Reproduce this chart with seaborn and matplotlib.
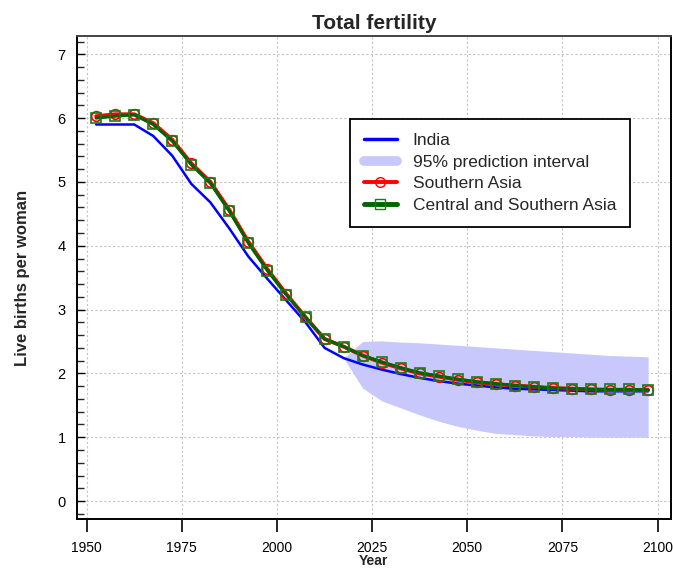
import numpy as np
import pandas as pd
import matplotlib
matplotlib.use("Agg")
import matplotlib.pyplot as plt
import seaborn as sns
from matplotlib.lines import Line2D
from matplotlib.ticker import MultipleLocator

# Period mid-years (5-year periods 1950-1955 ... 2095-2100)
years = [1952.5, 1957.5, 1962.5, 1967.5, 1972.5, 1977.5, 1982.5, 1987.5, 1992.5, 1997.5,
         2002.5, 2007.5, 2012.5, 2017.5, 2022.5, 2027.5, 2032.5, 2037.5, 2042.5, 2047.5,
         2052.5, 2057.5, 2062.5, 2067.5, 2072.5, 2077.5, 2082.5, 2087.5, 2092.5, 2097.5]

india = [5.90, 5.90, 5.90, 5.72, 5.41, 4.97, 4.68, 4.27, 3.83, 3.48,
         3.14, 2.80, 2.40, 2.24, 2.14, 2.06, 1.99, 1.93, 1.88, 1.84,
         1.81, 1.78, 1.76, 1.75, 1.74, 1.73, 1.72, 1.72, 1.72, 1.72]

southern_asia = [6.03, 6.06, 6.06, 5.92, 5.66, 5.29, 5.00, 4.56, 4.06, 3.63,
                 3.24, 2.88, 2.54, 2.42, 2.28, 2.17, 2.08, 2.00, 1.95, 1.90,
                 1.86, 1.83, 1.81, 1.79, 1.77, 1.76, 1.75, 1.74, 1.74, 1.74]

central_southern_asia = [6.00, 6.03, 6.05, 5.90, 5.64, 5.27, 4.98, 4.54, 4.04, 3.61,
                         3.23, 2.88, 2.54, 2.42, 2.28, 2.18, 2.09, 2.01, 1.96, 1.91,
                         1.87, 1.84, 1.81, 1.79, 1.77, 1.76, 1.75, 1.75, 1.75, 1.74]

# 95% prediction interval for India (projection period)
pi_years = [2017.5, 2022.5, 2027.5, 2032.5, 2037.5, 2042.5, 2047.5, 2052.5, 2057.5,
            2062.5, 2067.5, 2072.5, 2077.5, 2082.5, 2087.5, 2092.5, 2097.5]
pi_lower = [2.24, 1.77, 1.57, 1.46, 1.35, 1.25, 1.17, 1.11, 1.06,
            1.04, 1.02, 1.01, 1.01, 1.00, 1.00, 1.00, 1.00]
pi_upper = [2.24, 2.50, 2.51, 2.49, 2.48, 2.46, 2.44, 2.42, 2.40,
            2.38, 2.36, 2.34, 2.32, 2.30, 2.28, 2.27, 2.26]

df = pd.DataFrame({"year": years, "India": india, "Southern Asia": southern_asia,
                   "Central and Southern Asia": central_southern_asia})

sns.set_style("white")
plt.rcParams["font.family"] = ["Liberation Sans", "DejaVu Sans"]

fig = plt.figure(figsize=(6.73, 5.69), dpi=100)
ax = fig.add_axes([0.114, 0.088, 0.883, 0.848])

band_color = "#c8c8fc"
ax.fill_between(pi_years, pi_lower, pi_upper, color=band_color, lw=0, zorder=1)

sns.lineplot(data=df, x="year", y="India", color="#0000ff", lw=1.8, ax=ax, zorder=3)
sns.lineplot(data=df, x="year", y="Southern Asia", color="#ff0000", lw=2.8,
             marker="o", markersize=7, markerfacecolor="none", markeredgecolor="#ff0000",
             markeredgewidth=1.2, ax=ax, zorder=4)
sns.lineplot(data=df, x="year", y="Central and Southern Asia", color="#006400", lw=2.2,
             marker="s", markersize=6.5, markerfacecolor="none", markeredgecolor="#1a7a1a",
             markeredgewidth=1.2, ax=ax, zorder=5)

ax.set_xlim(1947.4, 2103.5)
ax.set_ylim(-0.28, 7.28)
ax.set_xticks([1950, 1975, 2000, 2025, 2050, 2075, 2100])
ax.set_yticks(range(0, 8))
ax.yaxis.set_minor_locator(MultipleLocator(0.2))

ax.grid(True, which="major", color="#c4c4c4", linestyle=(0, (2, 2)), lw=0.8)
for s in ax.spines.values():
    s.set_color("black")
    s.set_linewidth(1.4)
ax.spines["top"].set_color("#444444")

ax.tick_params(axis="x", which="major", direction="out", length=9, width=1.2,
               labelsize=10, pad=7, colors="black", bottom=True)
ax.tick_params(axis="y", which="major", direction="in", length=6, width=1.0,
               labelsize=10.5, pad=8, colors="black", left=True)
ax.tick_params(axis="y", which="minor", direction="in", length=5, width=1.0, left=True)

ax.set_title("Total fertility", fontsize=15, fontweight="bold", pad=5)
ax.set_xlabel("Year", fontsize=10, fontweight="bold")
ax.set_ylabel("Live births per woman", fontsize=12, fontweight="bold")
ax.xaxis.set_label_coords(0.5, -0.073)
ax.yaxis.set_label_coords(-0.079, 0.5)

handles = [
    Line2D([], [], color="#0000ff", lw=2.5),
    Line2D([], [], color=band_color, lw=7, solid_capstyle="round"),
    Line2D([], [], color="#ff0000", lw=2.8, marker="o", markersize=7,
           markerfacecolor="none", markeredgecolor="#ff0000"),
    Line2D([], [], color="#006400", lw=3.5, marker="s", markersize=6.5,
           markerfacecolor="none", markeredgecolor="#1a7a1a"),
]
labels = ["India", "95% prediction interval", "Southern Asia", "Central and Southern Asia"]
leg = ax.legend(handles, labels, loc="upper left", bbox_to_anchor=(0.46, 0.829),
                borderaxespad=0, fontsize=12.5, frameon=True, fancybox=False,
                edgecolor="black", handlelength=1.9, handletextpad=0.9,
                labelspacing=0.38, borderpad=0.8)
leg.get_frame().set_linewidth(1.3)
leg.get_frame().set_alpha(1)

fig.savefig("out.png", dpi=100)
